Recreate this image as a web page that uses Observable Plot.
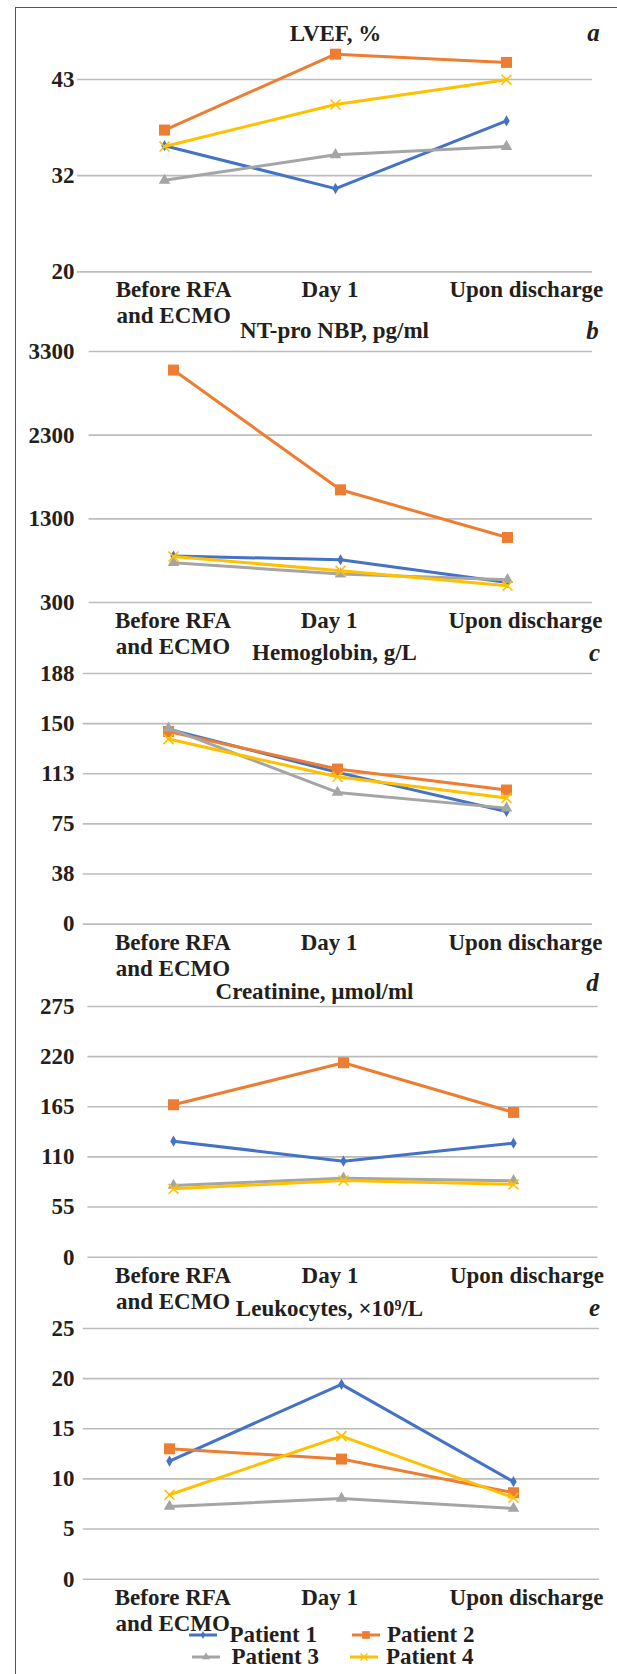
<!DOCTYPE html>
<html>
<head>
<meta charset="utf-8">
<script src="https://cdn.jsdelivr.net/npm/d3@7"></script>
<script src="https://cdn.jsdelivr.net/npm/@observablehq/plot@0.6"></script>
<style>
  html, body { margin: 0; padding: 0; background: #fff; }
  #root { position: relative; width: 617px; height: 1674px; overflow: hidden; background: #fff;
          font-family: "Liberation Serif", serif; font-weight: bold; color: #231f20; }
  #root svg.plot-panel { position: absolute; left: 0; }
  .frame-top { position: absolute; left: 15px; top: 7px; width: 602px; height: 0; border-top: 1.5px solid #555; }
  .frame-left { position: absolute; left: 15px; top: 7px; width: 0; height: 1667px; border-left: 1.5px solid #555; }
  .leg { position: absolute; font-size: 23px; line-height: 26px; white-space: nowrap; }
  .legsw { position: absolute; }
</style>
</head>
<body>
<div id="root">
  <div class="frame-top"></div>
  <div class="frame-left"></div>
</div>
<script>
// ---------- data ----------
const times = ["Before RFA and ECMO", "Day 1", "Upon discharge"];
const timeLabels = ["Before RFA\nand ECMO", "Day 1", "Upon discharge"];
const patients = ["Patient 1", "Patient 2", "Patient 3", "Patient 4"];

// a: LVEF, %
const lvefP1 = [35.3, 30.1, 38.3];
const lvefP2 = [37.2, 46.4, 45.4];
const lvefP3 = [31.1, 34.2, 35.2];
const lvefP4 = [35.2, 40.3, 43.3];
const lvefTicks = [20, 31.67, 43.33];
const lvefTickLabels = ["20", "32", "43"];

// b: NT-pro NBP, pg/ml
const nbpP1 = [855, 811, 540];
const nbpP2 = [3078, 1647, 1077];
const nbpP3 = [775, 640, 572];
const nbpP4 = [850, 679, 500];
const nbpTicks = [300, 1300, 2300, 3300];
const nbpTickLabels = ["300", "1300", "2300", "3300"];

// c: Hemoglobin, g/L
const hbP1 = [146.3, 113.8, 84.5];
const hbP2 = [144.5, 116.3, 100.6];
const hbP3 = [147, 98.8, 87];
const hbP4 = [138.8, 110.5, 94.6];
const hbTicks = [0, 37.6, 75.2, 112.8, 150.4, 188];
const hbTickLabels = ["0", "38", "75", "113", "150", "188"];

// d: Creatinine, µmol/ml
const crP1 = [127.3, 105.3, 125.1];
const crP2 = [167.2, 213.3, 158.8];
const crP3 = [78.7, 86.7, 83.8];
const crP4 = [75, 84.1, 79.8];
const crTicks = [0, 55, 110, 165, 220, 275];
const crTickLabels = ["0", "55", "110", "165", "220", "275"];

// e: Leukocytes, ×10⁹/L
const leuP1 = [11.78, 19.43, 9.72];
const leuP2 = [13.0, 11.98, 8.62];
const leuP3 = [7.25, 8.05, 7.05];
const leuP4 = [8.42, 14.27, 8.12];
const leuTicks = [0, 5, 10, 15, 20, 25];
const leuTickLabels = ["0", "5", "10", "15", "20", "25"];

// ---------- styles ----------
const colors = ["#4472c4", "#ed7d31", "#a5a5a5", "#ffc000"];
const symbols = ["diamond", "square", "triangle", "times"];
const symbolR = [3.4, 6.2, 4.3, 4.6];
const FONT = "Liberation Serif";
const FS = 23;
const TEXT = "#231f20";
const labelCenters = [172, 329, 526];

const panels = [
  {title: "LVEF, %", letter: "a", series: [lvefP1, lvefP2, lvefP3, lvefP4], ticks: lvefTicks, tickLabels: lvefTickLabels,
   domain: [20, 43.33], gridTop: 79.3, gridBottom: 271.7, left: 77, right: 592, titleOff: 46.3, titleX: 335, letterX: 593, letterOff: 46.3},
  {title: "NT-pro NBP, pg/ml", letter: "b", series: [nbpP1, nbpP2, nbpP3, nbpP4], ticks: nbpTicks, tickLabels: nbpTickLabels,
   domain: [300, 3300], gridTop: 350.7, gridBottom: 601.7, left: 88.6, right: 592, titleOff: 20.7, titleX: 334, letterX: 592, letterOff: 20.7},
  {title: "Hemoglobin, g/L", letter: "c", series: [hbP1, hbP2, hbP3, hbP4], ticks: hbTicks, tickLabels: hbTickLabels,
   domain: [0, 188], gridTop: 672.7, gridBottom: 923.3, left: 82.7, right: 592, titleOff: 20.7, titleX: 334, letterX: 594, letterOff: 20.7},
  {title: "Creatinine, µmol/ml", letter: "d", series: [crP1, crP2, crP3, crP4], ticks: crTicks, tickLabels: crTickLabels,
   domain: [0, 275], gridTop: 1006, gridBottom: 1256.7, left: 87.4, right: 597.6, titleOff: 15, titleX: 314, letterX: 592, letterOff: 23},
  {title: "Leukocytes, ×10⁹/L", letter: "e", series: [leuP1, leuP2, leuP3, leuP4], ticks: leuTicks, tickLabels: leuTickLabels,
   domain: [0, 25], gridTop: 1328, gridBottom: 1578.7, left: 82.7, right: 599, titleOff: 20.3, titleX: 329, letterX: 594, letterOff: 20.3}
];

const root = document.getElementById("root");
const MT = 60, MB = 62, W = 617;

for (const p of panels) {
  const rows = [];
  p.series.forEach((vals, pi) => vals.forEach((v, ti) => rows.push({patient: patients[pi], time: times[ti], value: v})));
  const plotW = p.right - p.left;
  const marks = [
    Plot.gridY(p.ticks, {stroke: "#bcbcbc", strokeOpacity: 1, strokeWidth: 1.6}),
    Plot.axisY(p.ticks, {tickSize: 0, tickPadding: p.left - 74, tickFormat: (d, i) => p.tickLabels[p.ticks.indexOf(d)],
      fontSize: FS, fontWeight: "bold", fill: TEXT, textAnchor: "end", label: null})
  ];
  patients.forEach((pt, pi) => {
    const data = rows.filter(r => r.patient === pt);
    marks.push(Plot.line(data, {x: "time", y: "value", stroke: colors[pi], strokeWidth: 3}));
    if (symbols[pi] === "times") {
      marks.push(Plot.dot(data, {x: "time", y: "value", symbol: symbols[pi], r: symbolR[pi], stroke: colors[pi], strokeWidth: 1.6}));
    } else {
      marks.push(Plot.dot(data, {x: "time", y: "value", symbol: symbols[pi], r: symbolR[pi], fill: colors[pi], stroke: "none"}));
    }
  });
  times.forEach((t, i) => {
    const cx = p.left + plotW * (i + 0.5) / 3;
    marks.push(Plot.text([t], {x: d => d, frameAnchor: "bottom", text: () => timeLabels[i], dx: labelCenters[i] - cx, dy: 7,
      lineAnchor: "top", lineHeight: 1.13, fontSize: FS, fontWeight: "bold", fill: TEXT}));
  });
  marks.push(Plot.text([p.title], {frameAnchor: "top", dx: p.titleX - (p.left + p.right) / 2, dy: -p.titleOff,
    lineAnchor: "middle", fontSize: FS, fontWeight: "bold", fill: TEXT}));
  marks.push(Plot.text([p.letter], {frameAnchor: "top-right", dx: p.letterX - p.right, dy: -p.letterOff, textAnchor: "middle",
    lineAnchor: "middle", fontSize: FS + 2, fontWeight: "bold", fontStyle: "italic", fill: TEXT}));

  const svg = Plot.plot({
    width: W,
    height: MT + (p.gridBottom - p.gridTop) + MB,
    marginTop: MT, marginBottom: MB, marginLeft: p.left, marginRight: W - p.right,
    x: {type: "point", domain: times, padding: 0.5, axis: null},
    y: {domain: p.domain, axis: null},
    style: {fontFamily: FONT, fontSize: FS + "px", background: "transparent", overflow: "visible", color: TEXT},
    marks
  });
  svg.classList.add("plot-panel");
  svg.style.top = (p.gridTop - MT) + "px";
  svg.style.position = "absolute";
  svg.style.maxWidth = "none";
  root.appendChild(svg);
}

// ---------- legend ----------
const legendItems = [
  {swX: 189, textX: 229.5, y: 1635},
  {swX: 352, textX: 387, y: 1635},
  {swX: 192, textX: 231.5, y: 1657},
  {swX: 350, textX: 386, y: 1657}
];
patients.forEach((pt, pi) => {
  const it = legendItems[pi];
  const sw = d3.create("svg").attr("class", "legsw").attr("width", 30).attr("height", 14)
    .style("left", it.swX + "px").style("top", (it.y - 7) + "px");
  sw.append("line").attr("x1", 0).attr("x2", 28).attr("y1", 7).attr("y2", 7)
    .attr("stroke", colors[pi]).attr("stroke-width", 3);
  const symMap = {diamond: d3.symbolDiamond, square: d3.symbolSquare, triangle: d3.symbolTriangle, times: d3.symbolTimes};
  const path = sw.append("path").attr("transform", "translate(14,7)")
    .attr("d", d3.symbol(symMap[symbols[pi]], Math.PI * (symbolR[pi] * 0.7) ** 2)());
  if (symbols[pi] === "times") path.attr("fill", "none").attr("stroke", colors[pi]).attr("stroke-width", 1.4);
  else path.attr("fill", colors[pi]);
  root.appendChild(sw.node());
  const tx = document.createElement("div");
  tx.className = "leg";
  tx.textContent = pt;
  tx.style.left = it.textX + "px";
  tx.style.top = (it.y - 13) + "px";
  root.appendChild(tx);
});
</script>
</body>
</html>
